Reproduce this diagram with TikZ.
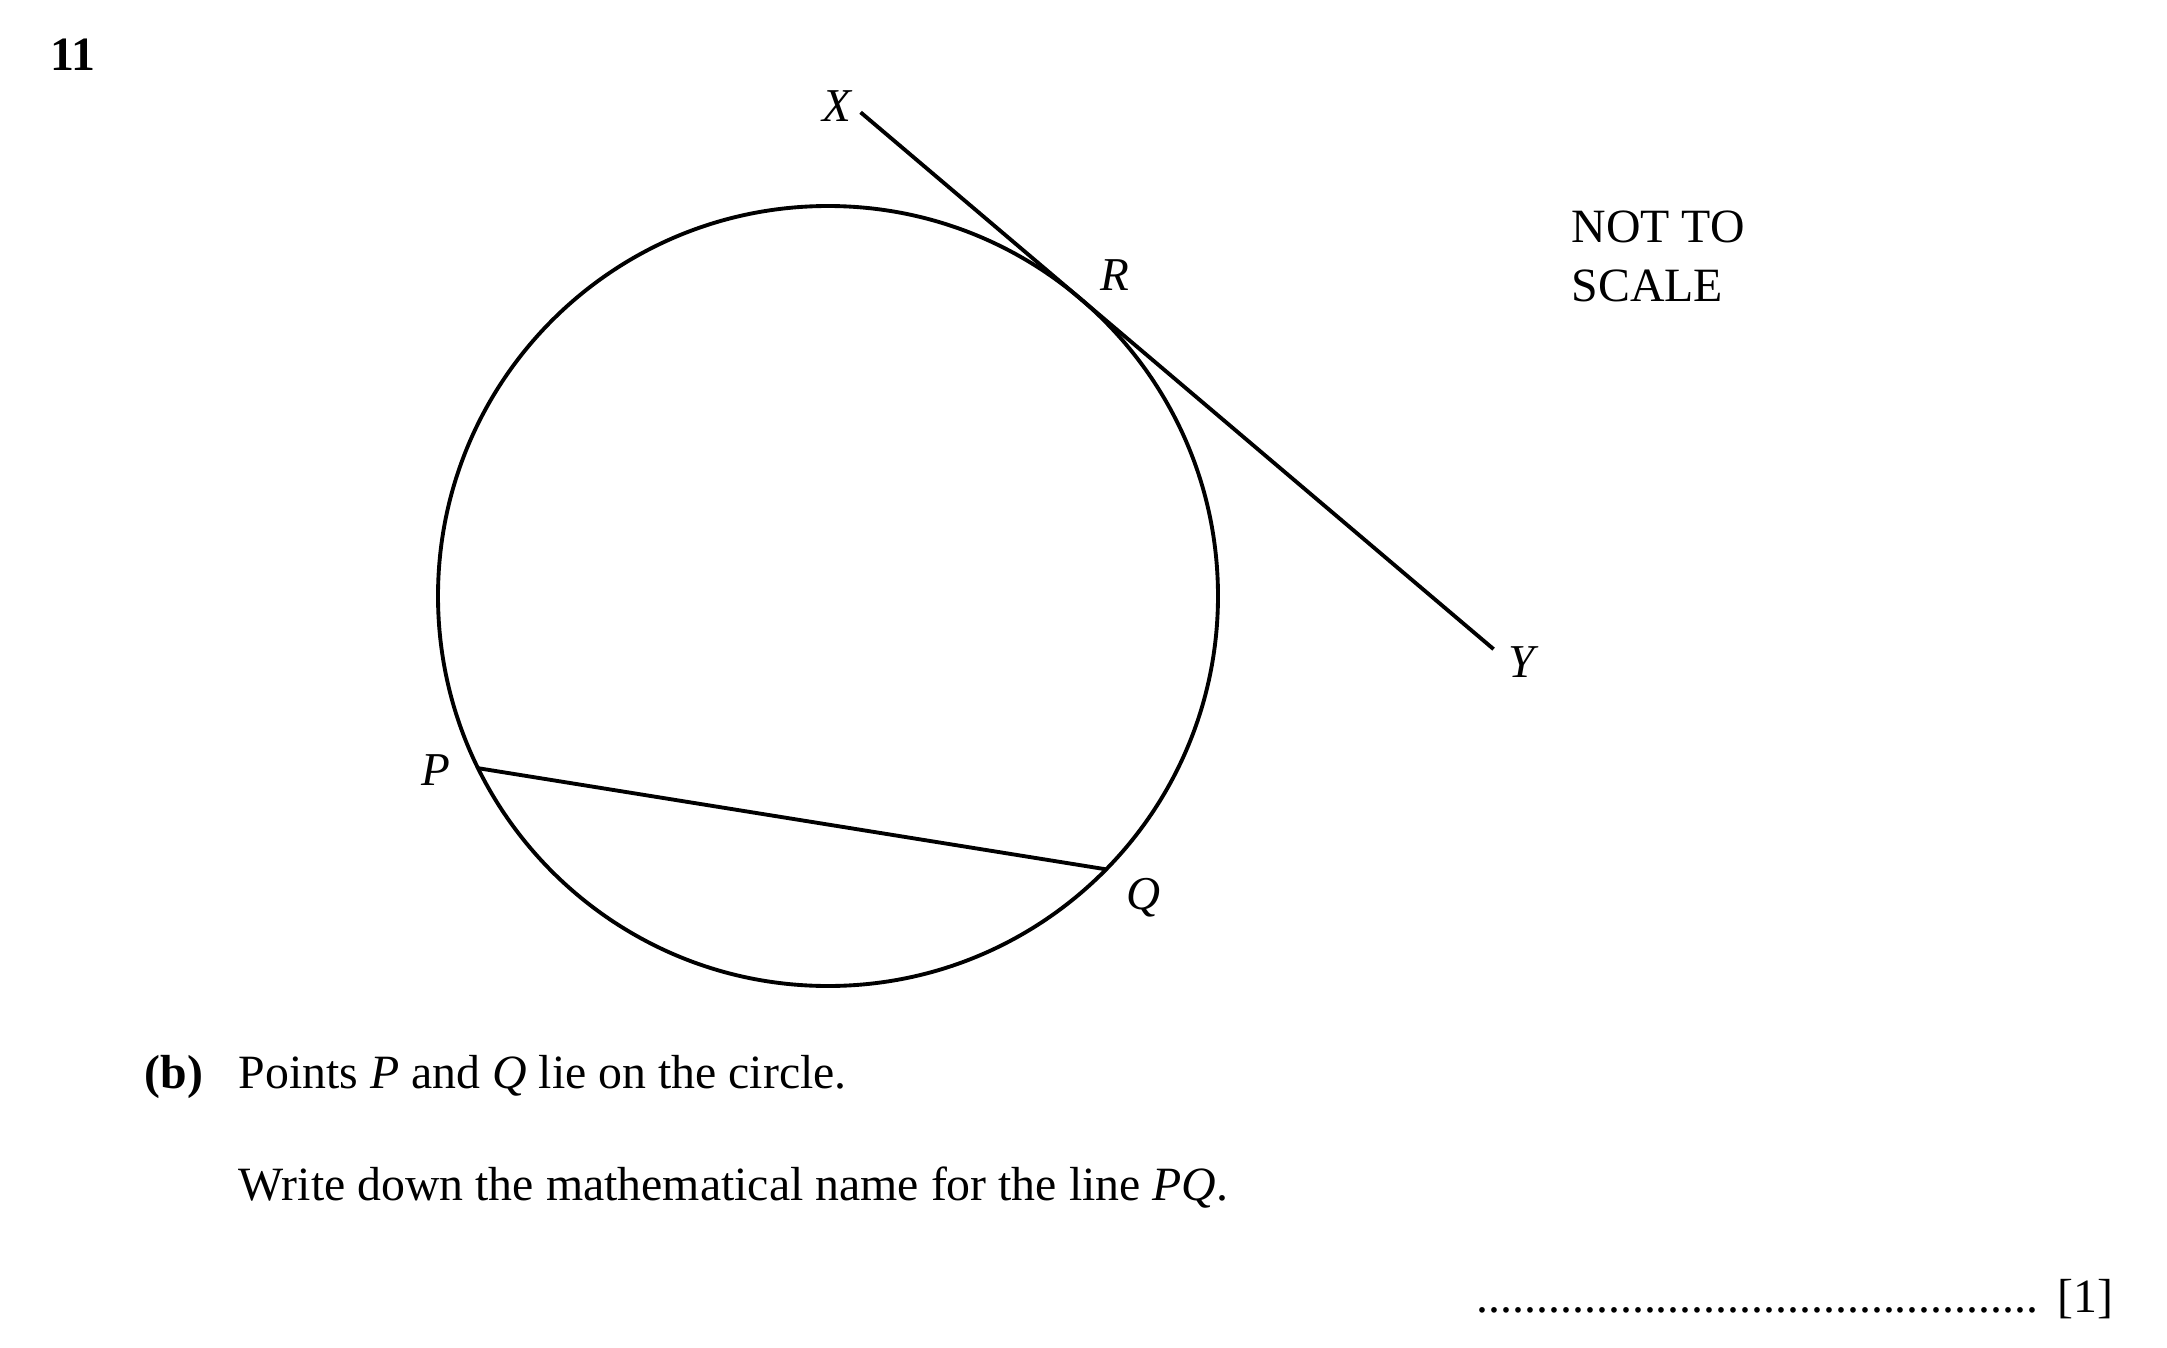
\documentclass[tikz,border=0pt]{standalone}
\usepackage{fontspec}
\setmainfont{Liberation Serif}
\usepackage{tikz}
\usetikzlibrary{calc,positioning}
\tikzset{>=latex}
\tikzset{
  lbl/.style={inner sep=0pt, font=\fontsize{13.4}{16}\selectfont\itshape},
  txt/.style={inner sep=0pt, anchor=base west, font=\fontsize{13.6}{16}\selectfont},
  geo/.style={line width=1.1pt}
}

\begin{document}
\begin{tikzpicture}
      \useasboundingbox (0,0) rectangle (21.67,-13.48);
      \coordinate (O) at (8.28,-5.96);
      \draw[geo] (O) circle (3.9);
      \coordinate (P) at ($(O)+(206.2:3.9)$);
      \coordinate (Q) at ($(O)+(315.5:3.9)$);
      \coordinate (R) at ($(O)+(49.7:3.9)$);
      \coordinate (X) at ($(R)+(139.7:2.88)$);
      \coordinate (Y) at ($(R)+(-40.3:5.42)$);
      \draw[geo] (X) -- (Y);
      \draw[geo] (P) -- (Q);
      \node[lbl, anchor=east, xshift=-0.09cm, yshift=0.06cm] (xlab) at (X) {X};
      \node[lbl, anchor=west, xshift=0.14cm, yshift=-0.13cm] (ylab) at (Y) {Y};
      \node[lbl, anchor=south west, xshift=0.2cm, yshift=0.07cm] (rlab) at (R) {R};
      \node[lbl, anchor=east, xshift=-0.27cm, yshift=-0.02cm] (plab) at (P) {P};
      \node[lbl, anchor=north west, xshift=0.2cm, yshift=-0.08cm] (qlab) at (Q) {Q};
      \node[txt] (scale1) at (15.71,-2.42) {NOT TO};
      \node[txt] (scale2) at (15.71,-3.01) {SCALE};
      \node[txt, font=\fontsize{13.6}{16}\selectfont\bfseries] (num) at (0.5,-0.71) {11};
      \node[txt, font=\fontsize{13.6}{16}\selectfont\bfseries] (part) at (1.44,-10.88) {(b)};
      \node[txt] (line1) at (2.38,-10.88) {Points \textit{P} and \textit{Q} lie on the circle.};
      \node[txt] (line2) at (2.38,-12.0) {Write down the mathematical name for the line \textit{PQ}.};
      \node[txt] (dots) at (14.76,-13.12) {...............................................};
      \node[txt] (mark) at (20.57,-13.12) {[1]};
    \end{tikzpicture}
\end{document}
